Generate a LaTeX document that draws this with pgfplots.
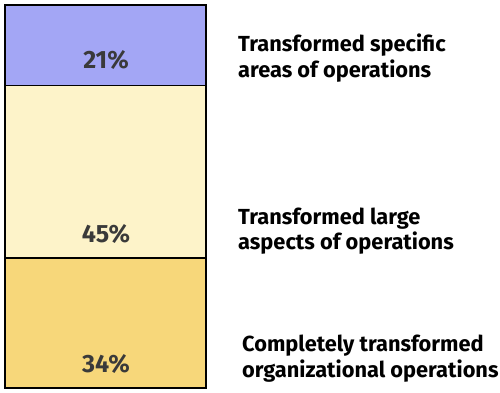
\documentclass[border=0pt]{standalone}
\usepackage{fontspec}
\setmainfont{Fira Sans}
\usepackage{pgfplots}
\pgfplotsset{compat=1.18}
\definecolor{cA}{HTML}{A3A6F5}
\definecolor{cB}{HTML}{FDF3C9}
\definecolor{cC}{HTML}{F7D77A}
\definecolor{txt}{HTML}{3A3A3A}
\begin{document}
\begin{tikzpicture}[x=1pt,y=1pt]
\path[use as bounding box] (0,0) rectangle (500,393);
\begin{axis}[at={(5pt,5pt)}, anchor=south west, width=201pt, height=383pt, scale only axis,
  xmin=-0.5, xmax=0.5, ymin=0, ymax=100, hide axis, ybar stacked, bar width=1, clip=false,
  every axis plot/.append style={draw=black, line width=1.6pt}]
\addplot[fill=cC] coordinates {(0,34)};
\addplot[fill=cB] coordinates {(0,45)};
\addplot[fill=cA] coordinates {(0,21)};
\end{axis}
\begin{scope}[every node/.style={anchor=base, inner sep=0pt, text=txt, font=\fontsize{25}{28}\selectfont\bfseries}]
\node at (106,324) {21\%};
\node at (106,150) {45\%};
\node at (106,20) {34\%};
\end{scope}
\begin{scope}[every node/.style={anchor=base west, inner sep=0pt, font=\fontsize{21.8}{26}\selectfont\bfseries}]
\node at (238,341) {Transformed specific};
\node at (238,315) {areas of operations};
\node at (238,168) {Transformed large};
\node at (238,143) {aspects of operations};
\node at (242,41) {Completely transformed};
\node at (242,15) {organizational operations};
\end{scope}
\end{tikzpicture}
\end{document}
